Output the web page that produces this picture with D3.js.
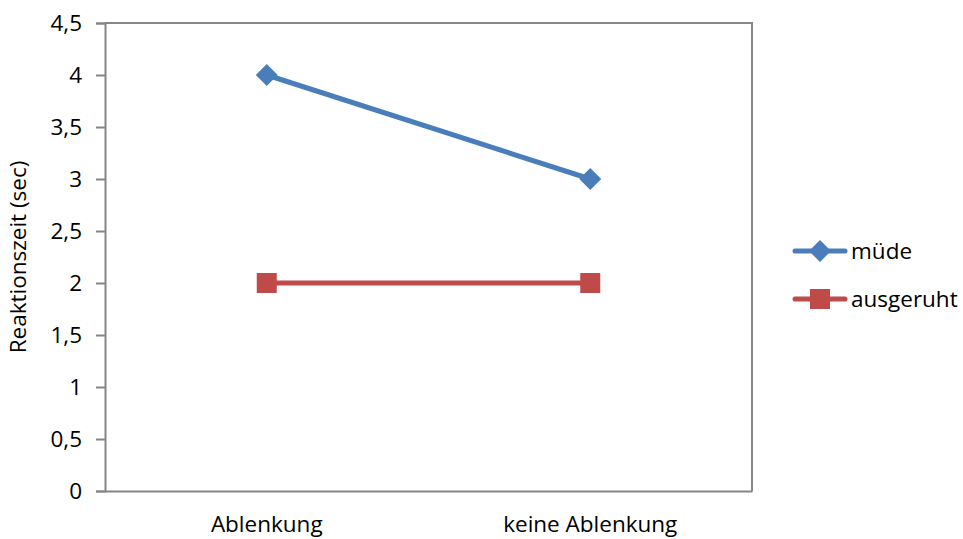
<!DOCTYPE html>
<html><head><meta charset="utf-8">
<script src="https://cdn.jsdelivr.net/npm/d3@7"></script>
<style>body{margin:0;background:#fff}svg{display:block}text{font-family:"Open Sans",sans-serif;fill:#000}</style>
</head><body><svg id="c" width="963" height="539"></svg>
<script>
const categories = ["Ablenkung", "keine Ablenkung"];
const seriesNames = ["müde", "ausgeruht"];
const muede = [4, 3];
const ausgeruht = [2, 2];
const yTicks = [0, 0.5, 1, 1.5, 2, 2.5, 3, 3.5, 4, 4.5];
const yTitle = "Reaktionszeit (sec)";

const FS = 22.5;
const svg = d3.select("#c");
const L = 105, R = 752, T = 23, B = 491;
const x = d3.scaleBand().domain(categories).range([L, R]);
const y = d3.scaleLinear().domain([0, 4.5]).range([B, T]);
const axisCol = "#868686";
const fmt = v => String(v).replace(".", ",");

// frame (top and right)
svg.append("path").attr("d", `M${L},${T}H${R}V${B}`).attr("fill", "none").attr("stroke", axisCol).attr("stroke-width", 2);

// y axis
const ya = svg.append("g").attr("transform", `translate(${L},0)`)
  .call(d3.axisLeft(y).tickValues(yTicks).tickFormat(fmt).tickSize(9).tickPadding(14));
ya.select(".domain").attr("stroke", axisCol).attr("stroke-width", 2);
ya.selectAll(".tick line").attr("stroke", axisCol).attr("stroke-width", 2);
ya.selectAll(".tick text").style("font-size", FS + "px").style("font-family", '"Open Sans",sans-serif').attr("fill", "#000");

// x axis
const xa = svg.append("g").attr("transform", `translate(0,${B})`)
  .call(d3.axisBottom(x).tickSize(0).tickPadding(25));
xa.select(".domain").attr("stroke", axisCol).attr("stroke-width", 2);
xa.selectAll(".tick text").style("font-size", FS + "px").style("font-family", '"Open Sans",sans-serif').attr("fill", "#000");

// y title
svg.append("text").attr("transform", `translate(26,${(T + B) / 2}) rotate(-90)`)
  .attr("text-anchor", "middle").style("font-size", FS + "px").text(yTitle);

const cx = c => x(c) + x.bandwidth() / 2;
const line = d3.line().x((d, i) => cx(categories[i])).y(d => y(d));
const series = [
  {name: seriesNames[0], vals: muede, color: "#4A7EBB", shape: "diamond"},
  {name: seriesNames[1], vals: ausgeruht, color: "#BE4B48", shape: "square"}
];
function marker(g, shape, color) {
  if (shape === "diamond") g.append("path").attr("d", "M0,-11L11,0L0,11L-11,0Z").attr("fill", color);
  else g.append("rect").attr("x", -10).attr("y", -10).attr("width", 20).attr("height", 20).attr("fill", color);
}
series.forEach(s => {
  svg.append("path").attr("d", line(s.vals)).attr("fill", "none").attr("stroke", s.color).attr("stroke-width", 5);
  s.vals.forEach((v, i) => {
    const g = svg.append("g").attr("transform", `translate(${cx(categories[i])},${y(v)})`);
    marker(g, s.shape, s.color);
  });
});

// legend
series.forEach((s, i) => {
  const ly = 251 + i * 48;
  svg.append("line").attr("x1", 795).attr("x2", 845).attr("y1", ly).attr("y2", ly)
    .attr("stroke", s.color).attr("stroke-width", 5).attr("stroke-linecap", "round");
  const g = svg.append("g").attr("transform", `translate(820,${ly})`);
  marker(g, s.shape, s.color);
  svg.append("text").attr("x", 851).attr("y", ly + 8).style("font-size", FS + "px").text(s.name);
});
</script></body></html>
